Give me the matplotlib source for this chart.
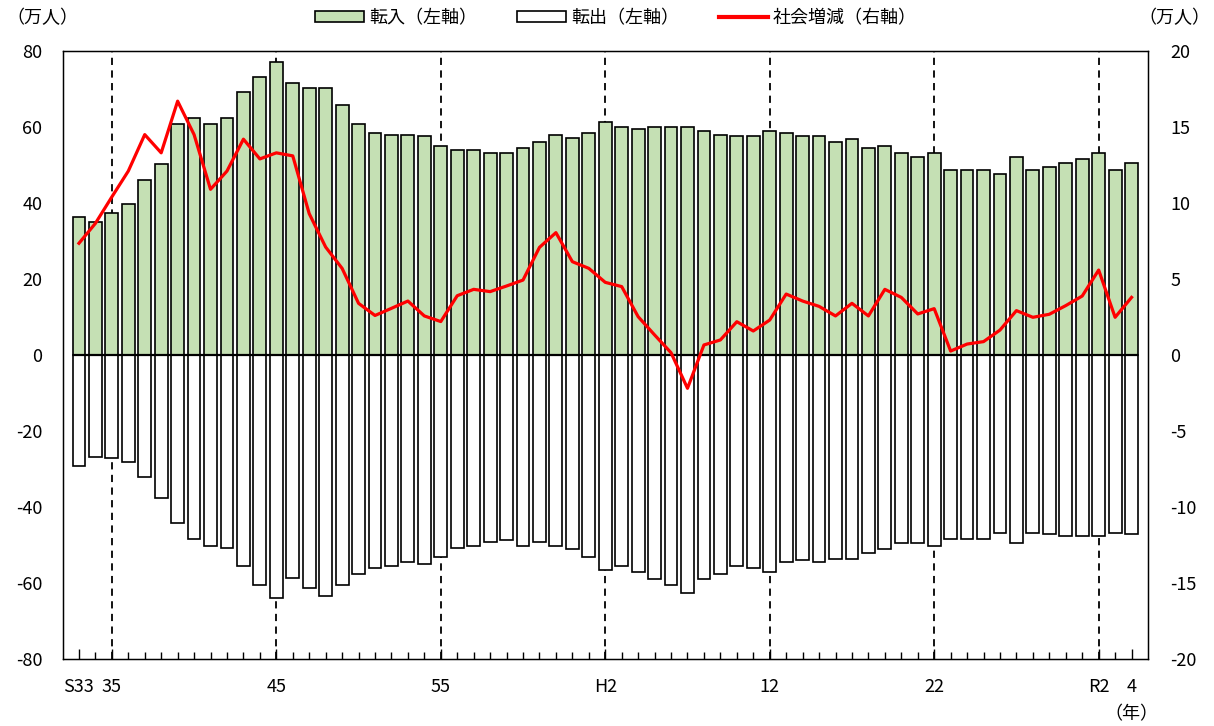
import numpy as np
import matplotlib
matplotlib.use("Agg")
import matplotlib.pyplot as plt
import matplotlib.transforms as mtransforms
from matplotlib.patches import Patch
from matplotlib.lines import Line2D

plt.rcParams['font.family'] = ['Noto Sans CJK JP', 'DejaVu Sans']
plt.rcParams['axes.unicode_minus'] = False

# 昭和33年(1958) ～ 令和4年(2022)
years = list(range(1958, 2023))

# 転入 (万人, 左軸)
tennyu = [36.4, 34.9, 37.5, 39.8, 46.1, 50.2, 60.8, 62.4, 60.8, 62.4,
          69.2, 73.2, 77.0, 71.6, 70.2, 70.2, 65.8, 60.8, 58.3, 57.9,
          57.9, 57.5, 55.1, 54.0, 54.0, 53.1, 53.1, 54.6, 56.0, 58.0,
          57.0, 58.4, 61.4, 59.9, 59.4, 59.9, 59.9, 59.9, 58.9, 58.0,
          57.5, 57.5, 58.9, 58.4, 57.5, 57.5, 56.0, 56.9, 54.6, 55.0,
          53.1, 52.0, 53.1, 48.6, 48.6, 48.6, 47.7, 52.0, 48.6, 49.6,
          50.5, 51.6, 53.1, 48.6, 50.5]

# 転出 (万人, 左軸)
tenshutsu = [-29.2, -26.8, -27.2, -28.2, -32.0, -37.5, -44.3, -48.3, -50.3, -50.7,
             -55.6, -60.4, -63.9, -58.6, -61.4, -63.4, -60.4, -57.5, -56.1, -55.6,
             -54.5, -55.1, -53.2, -50.7, -50.3, -49.1, -48.7, -50.3, -49.1, -50.2,
             -51.1, -53.2, -56.5, -55.6, -57.0, -58.9, -60.5, -62.5, -58.9, -57.5,
             -55.6, -56.1, -57.0, -54.6, -54.0, -54.6, -53.6, -53.6, -52.1, -51.1,
             -49.6, -49.6, -50.2, -48.3, -48.3, -48.3, -46.8, -49.6, -46.8, -47.2,
             -47.7, -47.7, -47.7, -46.8, -47.2]

# 社会増減 (万人, 右軸)
shakai = [7.35, 8.66, 10.4, 12.1, 14.5, 13.3, 16.7, 14.5, 10.9, 12.1,
          14.2, 12.9, 13.3, 13.1, 9.3, 7.1, 5.7, 3.4, 2.6, 3.07,
          3.55, 2.57, 2.2, 3.9, 4.32, 4.17, 4.54, 4.93, 7.08, 8.05,
          6.14, 5.70, 4.78, 4.50, 2.52, 1.32, 0.15, -2.19, 0.66, 0.99,
          2.19, 1.58, 2.30, 4.01, 3.55, 3.2, 2.57, 3.40, 2.57, 4.32,
          3.79, 2.70, 3.05, 0.26, 0.72, 0.88, 1.64, 2.92, 2.48, 2.68,
          3.25, 3.88, 5.59, 2.48, 3.79]

tick_years = [1958, 1960, 1970, 1980, 1990, 2000, 2010, 2020, 2022]
tick_labels = ['S33', '35', '45', '55', 'H2', '12', '22', 'R2', '4']
era_line_years = [1960, 1970, 1980, 1990, 2000, 2010, 2020]

green = '#C5E0B4'

x = np.arange(len(years))
pos = {y: i for i, y in enumerate(years)}

fig = plt.figure(figsize=(12.14, 7.26), dpi=100)
ax = fig.add_axes([63 / 1214, 67 / 726, 1085 / 1214, 608 / 726])

# dashed separators (behind the bars)
for y in era_line_years:
    ax.axvline(pos[y], color='black', linestyle=(0, (4, 3)), linewidth=1.3, zorder=1)

ax.bar(x, tennyu, width=0.78, color=green, edgecolor='black', linewidth=1.2, zorder=2)
ax.bar(x, tenshutsu, width=0.78, color='white', edgecolor='black', linewidth=1.2, zorder=2)
ax.hlines(0, x[0] - 0.39, x[-1] + 0.39, color='black', linewidth=1.6, zorder=3)

ax.set_xlim(-0.97, len(years))
ax.set_ylim(-80, 80)
ax.set_yticks(np.arange(-80, 81, 20))
ax.tick_params(axis='y', length=0, pad=15, labelsize=13)
ax.set_xticks([pos[y] for y in tick_years])
ax.set_xticklabels(tick_labels)
ax.set_xticks(x, minor=True)
ax.tick_params(axis='x', which='major', direction='in', length=7, width=1.0,
               pad=14, labelsize=13)
ax.tick_params(axis='x', which='minor', direction='in', length=5, width=1.0)
# "S33" sits flush with the left edge in the original
first = ax.get_xticklabels()[0]
first.set_horizontalalignment('left')
first.set_transform(first.get_transform() +
                    mtransforms.ScaledTranslation(-0.16, 0, fig.dpi_scale_trans))
for s in ax.spines.values():
    s.set_color('black')
    s.set_linewidth(1.0)

ax2 = ax.twinx()
ax2.plot(x, shakai, color='#FF0000', linewidth=2.3, zorder=5)
ax2.set_ylim(-20, 20)
ax2.set_yticks(np.arange(-20, 21, 5))
ax2.tick_params(axis='y', length=0, pad=16, labelsize=13)
for lab in ax2.get_yticklabels():
    lab.set_horizontalalignment('left')

handles = [Patch(facecolor=green, edgecolor='black', linewidth=1.2),
           Patch(facecolor='white', edgecolor='black', linewidth=1.2),
           Line2D([0], [0], color='#FF0000', linewidth=3)]
fig.legend(handles, ['転入（左軸）', '転出（左軸）', '社会増減（右軸）'],
           loc='center', bbox_to_anchor=(616 / 1214, 1 - 18 / 726), ncol=3,
           frameon=False, fontsize=13, handlelength=2.7, handleheight=0.6,
           handletextpad=0.3, columnspacing=2.2)

fig.text(6 / 1214, 1 - 18 / 726, '（万人）', fontsize=13, va='center', ha='left')
fig.text(1210 / 1214, 1 - 18 / 726, '（万人）', fontsize=13, va='center', ha='right')
fig.text(1158 / 1214, 1 - 714 / 726, '（年）', fontsize=13, va='center', ha='right')

fig.savefig('out.png', dpi=100)
